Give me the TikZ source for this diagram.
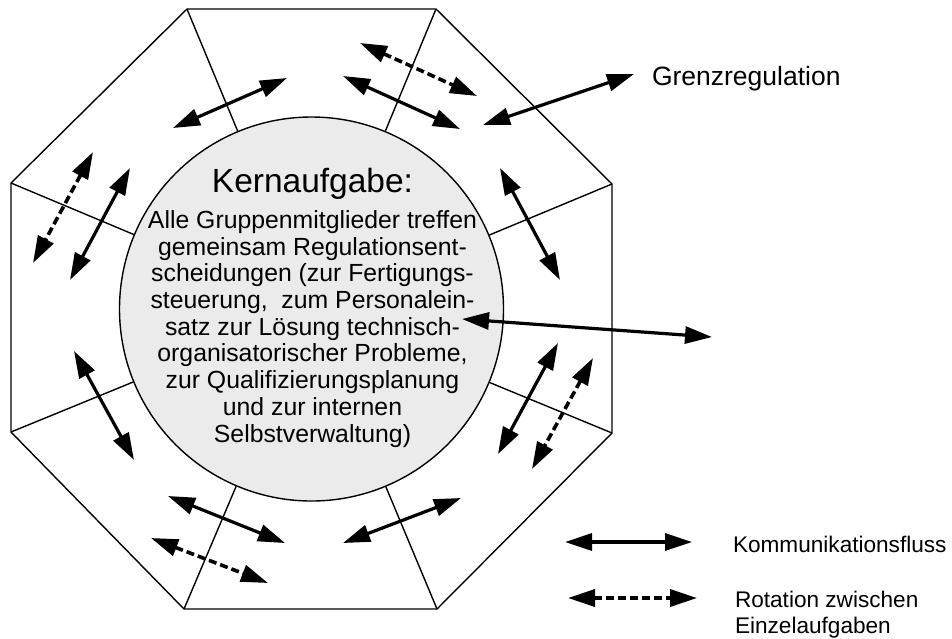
\documentclass[tikz,border=0pt]{standalone}
\usepackage{fontspec}
\setmainfont{Liberation Sans}
\usetikzlibrary{arrows.meta}
\begin{document}
\begin{tikzpicture}[x=1pt,y=-1pt,
  oct/.style={line width=1.4pt, line join=miter},
  flow/.style={line width=3.2pt, {Triangle[length=27pt,width=17pt]}-{Triangle[length=27pt,width=17pt]}},
  rot/.style={flow, line width=3.6pt, dash pattern=on 8pt off 4pt},
  txt/.style={inner sep=0pt, outer sep=0pt},
]
\useasboundingbox (0,0) rectangle (952,638);
% octagon vertices
\coordinate (v1) at (187,9);
\coordinate (v2) at (436,9);
\coordinate (v3) at (612,184);
\coordinate (v4) at (612,433);
\coordinate (v5) at (437,609);
\coordinate (v6) at (184,609);
\coordinate (v7) at (11,432);
\coordinate (v8) at (11,183);
\draw[oct] (v1) -- (v2) -- (v3) -- (v4) -- (v5) -- (v6) -- (v7) -- (v8) -- cycle;
% core circle
\node[circle, draw, line width=1.4pt, fill=black!8, minimum size=384pt, inner sep=0pt] (core) at (311.5,309) {};
\foreach \v in {v1,v2,v3,v4,v5,v6,v7,v8} \draw[oct] (\v) -- (core);
\node[txt, anchor=base, font=\fontsize{33.5pt}{40pt}\selectfont] (title) at (312.5,192.7) {Kernaufgabe:};
\node[txt, anchor=center, align=center, font=\fontsize{24.8pt}{26.7pt}\selectfont] (body) at (312.5,328.8)
 {Alle Gruppenmitglieder treffen\\gemeinsam Regulationsent-\\scheidungen (zur Fertigungs-\\steuerung,\ \ zum Personalein-\\satz zur Lösung technisch-\\organisatorischer Probleme,\\zur Qualifizierungsplanung\\und zur internen\\Selbstverwaltung)};
% arrows
\draw[flow] (173,128) -- (287,78);
\draw[rot]  (360,43) -- (477,96);
\draw[flow] (343,76) -- (460,129);
\draw[flow] (483,125) -- (634,74);
\draw[flow] (500,168) -- (560,280);
\draw[flow] (462,319) -- (712,337);
\draw[flow] (558,343) -- (498,454);
\draw[rot]  (593,358) -- (532,469);
\draw[flow] (343,543) -- (461,498);
\draw[flow] (168,496) -- (285,543);
\draw[rot]  (151,538) -- (268,583);
\draw[flow] (74,351) -- (134,460);
\draw[flow] (130,168) -- (70,280);
\draw[rot]  (93,152) -- (33,263);
% labels
\node[txt, anchor=base west, font=\fontsize{26.5pt}{30pt}\selectfont] (grenz) at (652,85) {Grenzregulation};
% legend
\draw[flow] (565,542) -- (692,542);
\draw[rot]  (568,598) -- (697,598);
\node[txt, anchor=base west, font=\fontsize{22.6pt}{26.7pt}\selectfont] (komm) at (733,552.7) {Kommunikationsfluss};
\node[txt, anchor=west, align=left, font=\fontsize{22.6pt}{26.2pt}\selectfont] (rotl) at (735,614.5) {Rotation zwischen\\Einzelaufgaben};
\end{tikzpicture}
\end{document}
